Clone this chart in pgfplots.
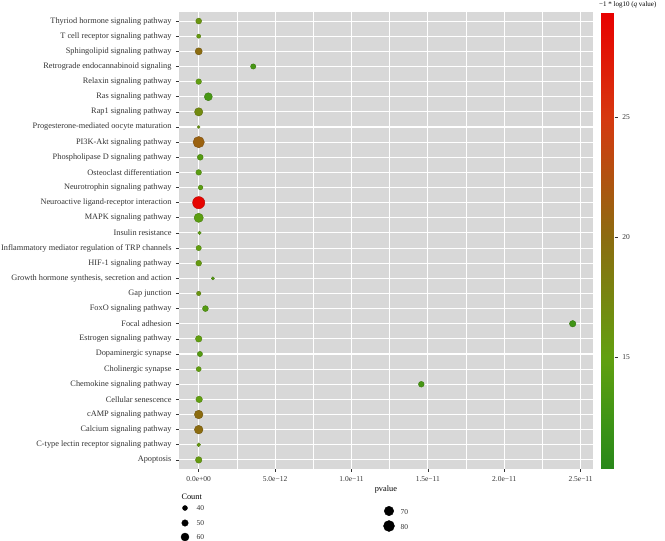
\documentclass[border=0pt]{standalone}
\usepackage{pgfplots}
\pgfplotsset{compat=1.18}
\usepackage{fontspec}
\setmainfont{Liberation Serif}
\definecolor{panelbg}{HTML}{D8D8D8}
\definecolor{ticktxt}{HTML}{333333}
\begin{document}
\begin{tikzpicture}
\useasboundingbox (-179pt,-72pt) rectangle (486pt,469pt);
\begin{axis}[
  at={(0,0)}, anchor=south west,
  scale only axis, width=413.7pt, height=457pt,
  xmin=-1.29, xmax=25.79, ymin=0.4, ymax=30.6,
  axis background/.style={fill=panelbg},
  axis line style={draw=none},
  xtick={0,5,10,15,20,25},
  xticklabels={0.0e+00,5.0e−12,1.0e−11,1.5e−11,2.0e−11,2.5e−11},
  minor xtick={2.5,7.5,12.5,17.5,22.5},
  ytick={1,...,30},
  yticklabels={Apoptosis,C-type lectin receptor signaling pathway,Calcium signaling pathway,cAMP signaling pathway,Cellular senescence,Chemokine signaling pathway,Cholinergic synapse,Dopaminergic synapse,Estrogen signaling pathway,Focal adhesion,FoxO signaling pathway,Gap junction,{Growth hormone synthesis, secretion and action},HIF-1 signaling pathway,Inflammatory mediator regulation of TRP channels,Insulin resistance,MAPK signaling pathway,Neuroactive ligand-receptor interaction,Neurotrophin signaling pathway,Osteoclast differentiation,Phospholipase D signaling pathway,PI3K-Akt signaling pathway,Progesterone-mediated oocyte maturation,Rap1 signaling pathway,Ras signaling pathway,Relaxin signaling pathway,Retrograde endocannabinoid signaling,Sphingolipid signaling pathway,T cell receptor signaling pathway,Thyriod hormone signaling pathway},
  xmajorgrids, ymajorgrids, xminorgrids,
  major grid style={white, line width=1.1pt},
  minor grid style={white, line width=0.5pt},
  tick align=outside, major tick length=3pt, minor tick length=0pt,
  tick style={draw=ticktxt, line width=0.6pt},
  xtick pos=bottom, ytick pos=left,
  xticklabel style={font=\fontsize{7.5}{9}\selectfont, text=ticktxt, yshift=-1pt},
  yticklabel style={font=\fontsize{8.3}{10}\selectfont, text=ticktxt, xshift=-1pt},
  colormap={gg}{rgb255(0cm)=(40,136,26) rgb255(2cm)=(62,148,22) rgb255(4.67cm)=(98,160,16) rgb255(9.67cm)=(140,108,16) rgb255(14.67cm)=(214,56,16) rgb255(19.07cm)=(232,0,0)},
  point meta min=10.33, point meta max=29.4,
  colorbar,
  colorbar style={
    at={(parent axis.north east)}, anchor=north west, xshift=0pt,
    scale only axis, width=12.7pt, height=457pt,
    axis line style={draw=none},
    ytick={15,20,25}, yticklabels={15,20,25},
    major tick length=0pt,
    yticklabel pos=right, ytick pos=right,
    yticklabel style={font=\fontsize{7.5}{9}\selectfont, text=ticktxt, xshift=5pt},
  },
  clip=false,
]
\addplot[scatter, only marks, mark=*, scatter src=explicit,
  visualization depends on={2.5+0.075*(\thisrow{n}-40) \as \rad},
  scatter/@pre marker code/.append style={/tikz/mark size=\rad}]
  table[x=p, y=i, meta=q] {
p i q n
0 1 15.5 50
0 2 15.5 32
0 3 20 64
0 4 20 64
0.03 5 15 50
14.57 6 13 45
0 7 15 40
0.08 8 14 42
0 9 15 50
24.48 10 12.5 50
0.44 11 14 46
0 12 16 36
0.93 13 14 28
0 14 15.5 45
0 15 15 42
0.05 16 14.5 30
0 17 14.5 68
0 18 29 88
0.12 19 14.5 38
0 20 14.5 44
0.1 21 14 46
0 22 21 82
0 23 16 26
0 24 17 62
0.63 25 13 60
0 26 15 44
3.57 27 13 42
0 28 20 54
0 29 15.5 34
0 30 16 46
};
\end{axis}
\begin{axis}[
  at={(-179pt,-72pt)}, anchor=south west,
  scale only axis, width=665pt, height=541pt,
  xmin=0, xmax=665, ymin=0, ymax=541, y dir=reverse,
  hide axis, clip=false,
]
\addplot[only marks, mark=*, black, mark size=2.5pt] coordinates {(185,508)};
\addplot[only marks, mark=*, black, mark size=3.25pt] coordinates {(185,523)};
\addplot[only marks, mark=*, black, mark size=4pt] coordinates {(185,537)};
\addplot[only marks, mark=*, black, mark size=4.75pt] coordinates {(389,511)};
\addplot[only marks, mark=*, black, mark size=5.5pt] coordinates {(389,526)};
\draw[ticktxt, line width=0.8pt] (axis cs:614.5,117.5) -- (axis cs:618,117.5)
  (axis cs:614.5,237.3) -- (axis cs:618,237.3)
  (axis cs:614.5,357.1) -- (axis cs:618,357.1);
\node[font=\fontsize{8.3}{10}\selectfont, text=black] at (axis cs:385.9,490) {pvalue};
\node[font=\fontsize{8.3}{10}\selectfont, text=black, anchor=west] at (axis cs:178,497) {Count};
\node[font=\fontsize{7.5}{9}\selectfont, text=ticktxt, anchor=west] at (axis cs:193,508) {40};
\node[font=\fontsize{7.5}{9}\selectfont, text=ticktxt, anchor=west] at (axis cs:193,523) {50};
\node[font=\fontsize{7.5}{9}\selectfont, text=ticktxt, anchor=west] at (axis cs:193,537) {60};
\node[font=\fontsize{7.5}{9}\selectfont, text=ticktxt, anchor=west] at (axis cs:397,512) {70};
\node[font=\fontsize{7.5}{9}\selectfont, text=ticktxt, anchor=west] at (axis cs:397,527) {80};
\node[font=\fontsize{7}{8}\selectfont, text=black, anchor=west, inner sep=0pt] at (axis cs:599,4.5) {−1 * log10 (\textit{q} value)};
\end{axis}
\end{tikzpicture}
\end{document}
